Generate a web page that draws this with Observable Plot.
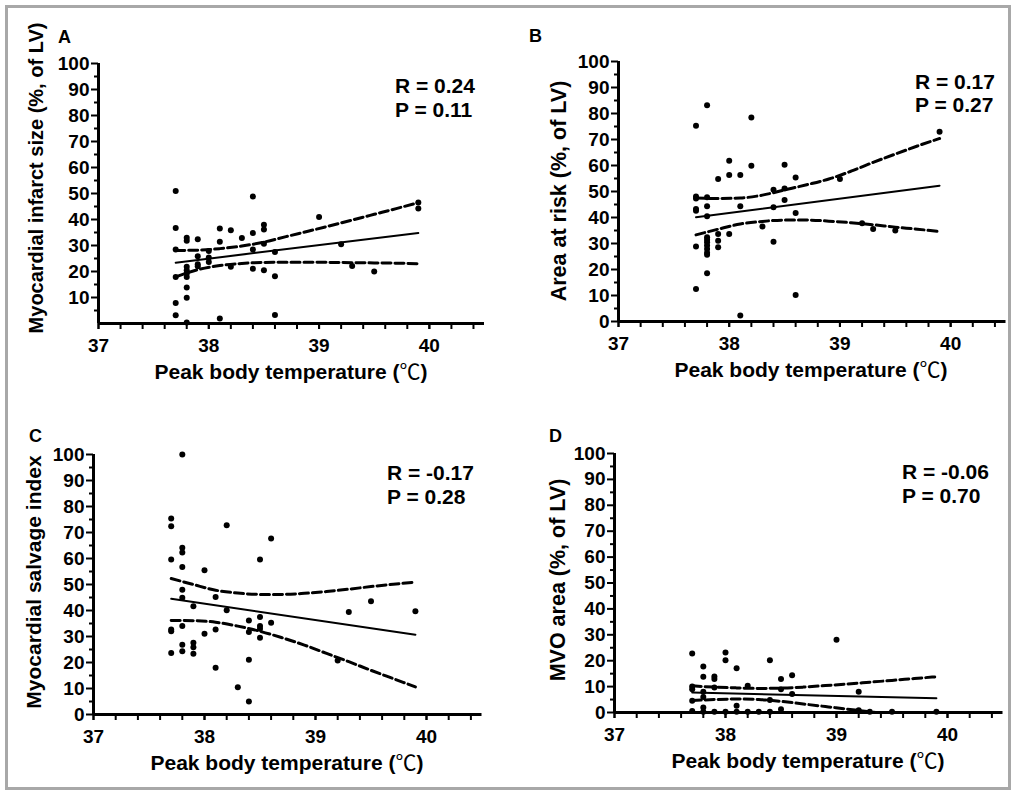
<!DOCTYPE html>
<html><head><meta charset="utf-8">
<script src="https://cdn.jsdelivr.net/npm/d3@7"></script>
<script src="https://cdn.jsdelivr.net/npm/@observablehq/plot@0.6"></script>
<style>
html,body{margin:0;padding:0;background:#fff;}
#fig{position:relative;width:1013px;height:791px;overflow:hidden;font-family:"Liberation Sans",Arial,sans-serif;}
#border{position:absolute;left:5px;top:5px;width:1000px;height:779px;border:3px solid #a8a8a8;}
.panel{position:absolute;}
#overlay{position:absolute;left:0;top:0;pointer-events:none;}
</style></head><body><div id="fig"><div id="border"></div></div>
<script>
// ---------- data ----------
const xTickLabels = [37, 38, 39, 40];
const yTicksA = [10, 20, 30, 40, 50, 60, 70, 80, 90, 100];
const yTicksBCD = [0, 10, 20, 30, 40, 50, 60, 70, 80, 90, 100];
const xTitle = "Peak body temperature (\u2103)";
const yTitles = ["Myocardial infarct size (%, of LV)", "Area at risk (%, of LV)", "Myocardial salvage index", "MVO area (%, of LV)"];
const panelLetters = ["A", "B", "C", "D"];
const rTexts = ["R = 0.24", "R = 0.17", "R = -0.17", "R = -0.06"];
const pTexts = ["P = 0.11", "P = 0.27", "P = 0.28", "P = 0.70"];

// Panel A: infarct size
const aTemp = [37.7,37.7,37.7,37.7,37.7,37.7, 37.8,37.8,37.8,37.8,37.8,37.8,37.8,37.8,37.8, 37.9,37.9,37.9,37.9, 38.0,38.0,38.0, 38.1,38.1,38.1, 38.2,38.2, 38.3, 38.4,38.4,38.4,38.4, 38.5,38.5,38.5,38.5, 38.6,38.6,38.6, 39.0, 39.2, 39.3, 39.5, 39.9,39.9];
const aValue = [51.0,36.7,28.5,17.9,7.9,3.2, 33.0,31.8,21.8,20.5,19.2,17.9,13.8,9.9,0.4, 32.4,25.9,22.8,22.0, 27.9,25.4,23.7, 36.5,31.4,1.9, 35.9,21.8, 32.9, 48.8,34.8,28.5,21.1, 38.0,36.2,30.7,20.5, 27.5,18.2,3.3, 41.0, 30.5, 22.1, 20.0, 46.5,44.2];
// Panel B: area at risk
const bTemp = [37.7,37.7,37.7,37.7,37.7,37.7,37.7, 37.8,37.8,37.8,37.8,37.8,37.8,37.8,37.8,37.8,37.8,37.8,37.8, 37.9,37.9,37.9,37.9, 38.0,38.0,38.0, 38.1,38.1,38.1, 38.2,38.2, 38.3, 38.4,38.4,38.4, 38.5,38.5,38.5, 38.6,38.6,38.6, 39.0, 39.2, 39.3, 39.5, 39.9];
const bValue = [75.3,48.1,47.3,43.3,42.6,28.8,12.5, 83.2,47.8,44.3,40.5,32.4,31.4,30.5,29.2,27.9,26.4,25.7,18.6, 54.8,33.7,31.1,28.6, 61.8,56.3,33.7, 56.3,44.3,2.3, 78.5,59.9, 36.5, 50.7,43.9,30.7, 60.3,51.2,46.7, 55.4,41.7,10.2, 54.8, 37.8, 35.6, 35.0, 73.0];
// Panel C: myocardial salvage index
const cTemp = [37.7,37.7,37.7,37.7,37.7,37.7, 37.8,37.8,37.8,37.8,37.8,37.8,37.8,37.8,37.8, 37.9,37.9,37.9,37.9, 38.0,38.0, 38.1,38.1,38.1, 38.2,38.2, 38.3, 38.4,38.4,38.4,38.4, 38.5,38.5,38.5,38.5,38.5, 38.6,38.6, 39.2, 39.3, 39.5, 39.9];
const cValue = [75.4,72.4,59.6,32.7,32.0,23.7, 100,64.1,62.3,56.7,48.0,44.9,34.0,26.8,24.3, 41.6,27.6,25.9,23.4, 55.5,31.1, 45.2,32.7,18.0, 72.8,40.1, 10.5, 36.2,31.7,21.1,5.0, 59.6,37.5,34.0,33.0,29.5, 67.7,35.3, 20.8, 39.4, 43.6, 39.7];
// Panel D: MVO area
const dTemp = [37.7,37.7,37.7,37.7,37.7, 37.8,37.8,37.8,37.8,37.8,37.8, 37.9,37.9,37.9,37.9, 38.0,38.0,38.0, 38.1,38.1,38.1, 38.2,38.2, 38.3, 38.4,38.4,38.4, 38.5,38.5,38.5, 38.6,38.6, 39.0, 39.2,39.2, 39.3, 39.5, 39.9];
const dValue = [22.8,10.0,9.0,4.5,0.6, 17.8,13.8,8.0,6.0,1.9,0.3, 13.9,12.9,9.7,0.3, 23.2,20.2,0.3, 17.1,2.6,0.3, 10.3,0.3, 0.3, 20.2,4.8,0.3, 12.9,9.0,1.3, 14.4,7.1, 28.1, 8.0,0.9, 0.3, 0.3, 0.3];

// regression lines (endpoints)
const fitTemp = [37.7, 39.9];
const aFit = [23.4, 34.8];
const bFit = [40.1, 52.2];
const cFit = [44.5, 30.7];
const dFit = [7.7, 5.5];

// 95% confidence bands
const bandTemp = [37.7, 37.9, 38.1, 38.3, 38.5, 38.7, 38.9, 39.1, 39.3, 39.5, 39.7, 39.9];
const aUpper = [28.1, 28.2, 28.8, 29.8, 31.3, 33.4, 35.5, 37.6, 39.8, 42.0, 44.2, 46.5];
const aLower = [17.9, 20.7, 22.3, 23.1, 23.5, 23.6, 23.6, 23.5, 23.4, 23.3, 23.2, 23.0];
const bUpper = [47.5, 47.3, 47.5, 48.6, 50.6, 52.6, 54.8, 57.8, 61.2, 64.4, 67.5, 70.4];
const bLower = [33.3, 35.5, 37.5, 38.5, 39.0, 39.0, 38.6, 38.0, 37.2, 36.3, 35.5, 34.6];
const cUpper = [52.3, 50.0, 47.8, 46.7, 46.2, 46.2, 46.6, 47.3, 48.2, 49.2, 50.1, 50.9];
const cLower = [36.2, 36.1, 35.5, 34.0, 32.0, 29.5, 26.7, 23.5, 20.3, 17.0, 13.8, 10.6];
const dUpper = [10.3, 9.8, 9.5, 9.3, 9.4, 9.8, 10.4, 11.0, 11.7, 12.4, 13.1, 13.8];
const dLower = [4.6, 5.0, 5.2, 5.0, 4.3, 3.3, 2.3, 1.3, 0.3, -0.8, -2.0, -3.2];

// ---------- layout ----------
const fontFamily = '"Liberation Sans", Arial, Helvetica, sans-serif';
const minorX = d3.range(185, 203).map(d => d / 5);
const minorY = d3.range(5, 100, 10);

const panels = [
  {temp: aTemp, value: aValue, fit: aFit, upper: aUpper, lower: aLower, yTicks: yTicksA,
   left: 0, top: 0, width: 500, height: 395, mL: 98, mT: 63, mB: 72, mR: 16},
  {temp: bTemp, value: bValue, fit: bFit, upper: bUpper, lower: bLower, yTicks: yTicksBCD,
   left: 505, top: 0, width: 508, height: 395, mL: 113, mT: 61, mB: 74, mR: 7.5},
  {temp: cTemp, value: cValue, fit: cFit, upper: cUpper, lower: cLower, yTicks: yTicksBCD,
   left: 0, top: 395, width: 500, height: 396, mL: 93, mT: 59, mB: 77, mR: 18.5},
  {temp: dTemp, value: dValue, fit: dFit, upper: dUpper, lower: dLower, yTicks: yTicksBCD,
   left: 505, top: 395, width: 508, height: 396, mL: 109, mT: 58, mB: 79, mR: 10.5}
];

const fig = document.getElementById("fig");

panels.forEach(p => {
  const pts = p.temp.map((t, i) => ({t, v: p.value[i]}));
  const fit = fitTemp.map((t, i) => ({t, v: p.fit[i]}));
  const up = bandTemp.map((t, i) => ({t, v: p.upper[i]}));
  const lo = bandTemp.map((t, i) => ({t, v: p.lower[i]}));
  const chart = Plot.plot({
    width: p.width, height: p.height,
    marginLeft: p.mL, marginRight: p.mR, marginTop: p.mT, marginBottom: p.mB,
    x: {domain: [37, 40.5]},
    y: {domain: [0, 100]},
    style: {fontFamily, fontSize: "19px", fontWeight: "bold", color: "#000", background: "transparent", overflow: "visible"},
    marks: [
      Plot.axisX({ticks: minorX, tickSize: 6, tickFormat: () => "", strokeWidth: 2, label: null}),
      Plot.axisX({ticks: xTickLabels, tickSize: 6, tickPadding: 9, strokeWidth: 2, tickFormat: d => String(d), label: null}),
      Plot.axisY({ticks: minorY, tickSize: 4, tickFormat: () => "", strokeWidth: 2, label: null}),
      Plot.axisY({ticks: p.yTicks, tickSize: 7, tickPadding: 2, strokeWidth: 2, tickFormat: d => String(d), label: null}),
      Plot.ruleY([0], {stroke: "#000", strokeWidth: 3}),
      Plot.ruleX([37], {stroke: "#000", strokeWidth: 3}),
      Plot.line(up, {x: "t", y: "v", stroke: "#000", strokeWidth: 3, strokeDasharray: "9,4", curve: "monotone-x", clip: true}),
      Plot.line(lo, {x: "t", y: "v", stroke: "#000", strokeWidth: 3, strokeDasharray: "9,4", curve: "monotone-x", clip: true}),
      Plot.line(fit, {x: "t", y: "v", stroke: "#000", strokeWidth: 2}),
      Plot.dot(pts, {x: "t", y: "v", r: 3, fill: "#000", stroke: "none"})
    ]
  });
  chart.classList.add("panel");
  chart.style.left = p.left + "px";
  chart.style.top = p.top + "px";
  fig.appendChild(chart);
});

// ---------- text annotations ----------
const svg = d3.select(fig).append("svg").attr("id", "overlay")
  .attr("width", 1013).attr("height", 791)
  .style("font-family", fontFamily).style("font-weight", "bold").attr("fill", "#000");

const letterPos = [[58, 43], [529, 42], [29, 442], [549, 442]];
const rpPos = [[395, 93, 117], [915, 89, 112], [387, 480, 504], [902, 479, 503]];
const xTitlePos = [[291, 379], [811, 377], [287, 770], [808, 768]];
const yTitlePos = [[43, 178, 20], [566, 191, 21.5], [41, 582, 21], [565, 580, 21.5]];
const [xTitleHead, xTitleTail] = xTitle.split("\u2103");

panelLetters.forEach((L, i) => {
  svg.append("text").attr("x", letterPos[i][0]).attr("y", letterPos[i][1]).attr("font-size", 18).text(L);
  svg.append("text").attr("x", rpPos[i][0]).attr("y", rpPos[i][1]).attr("font-size", 21).text(rTexts[i]);
  svg.append("text").attr("x", rpPos[i][0]).attr("y", rpPos[i][2]).attr("font-size", 21).text(pTexts[i]);
  const xt = svg.append("text").attr("x", xTitlePos[i][0]).attr("y", xTitlePos[i][1]).attr("font-size", 21)
    .attr("text-anchor", "middle");
  xt.append("tspan").text(xTitleHead);
  xt.append("tspan").style("font-family", '"Noto Sans CJK SC", sans-serif').style("font-weight", "normal").text("\u2103");
  xt.append("tspan").text(xTitleTail);
  svg.append("text").attr("transform", `translate(${yTitlePos[i][0]},${yTitlePos[i][1]}) rotate(-90)`)
    .attr("font-size", yTitlePos[i][2]).attr("text-anchor", "middle").text(yTitles[i]);
});
</script>
</body></html>
